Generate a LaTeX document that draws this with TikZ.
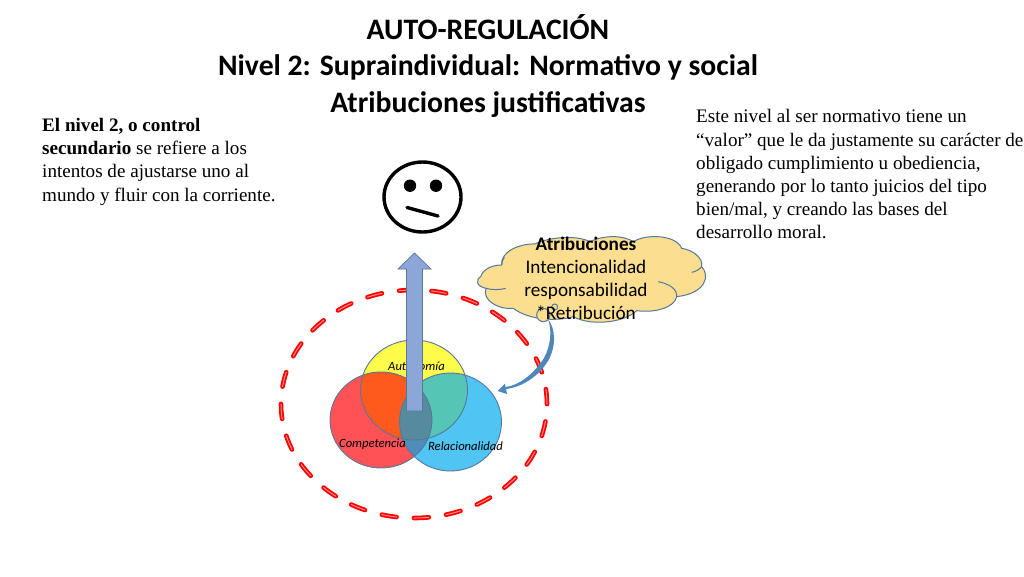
\documentclass[tikz,border=0pt]{standalone}
\usepackage{fontspec}
\setmainfont{Liberation Serif}
\newfontfamily\carlito{Carlito}
\usetikzlibrary{positioning}

\definecolor{cloudFill}{HTML}{FBDE90}
\definecolor{lineBlue}{HTML}{55789A}
\definecolor{arrowFill}{HTML}{8CA6D8}
\definecolor{curveBlue}{HTML}{4F86BC}
\definecolor{autoYellow}{HTML}{FFFB4A}
\definecolor{compRed}{HTML}{FF5256}
\definecolor{relBlue}{HTML}{50C4F2}
\definecolor{autoComp}{HTML}{FF5A1E}
\definecolor{autoRel}{HTML}{55C6B6}
\definecolor{compRel}{HTML}{4F8DBB}
\definecolor{allThree}{HTML}{558A9F}

\tikzset{
  titleText/.style={font=\carlito\bfseries\fontsize{29.7}{36.5}\selectfont,align=center},
  noteText/.style={font=\fontsize{19.1}{23.2}\selectfont,align=left,anchor=north west,inner sep=0pt},
  vennText/.style={font=\carlito\itshape\fontsize{12.6}{14}\selectfont,inner sep=0pt},
  cloudText/.style={font=\carlito\fontsize{19.2}{23}\selectfont,align=center,inner sep=0pt},
  vennLine/.style={draw=lineBlue,line width=.9pt},
  cloudLine/.style={draw=lineBlue,line width=1pt},
  faceLine/.style={line width=3.4pt,line cap=round},
}

\begin{document}
\begin{tikzpicture}[x=1pt,y=-1pt]
\useasboundingbox (0,0) rectangle (1024,576);

\def\autoPath{(414,390) ellipse [x radius=53.5,y radius=50]}
\def\compPath{(381,420) ellipse [x radius=51,y radius=48]}
\def\relPath{(450.5,422) ellipse [x radius=51,y radius=49]}

%% title and the two notes
\node[titleText] (title) at (488,66) {AUTO-REGULACIÓN\\Nivel 2: Supraindividual: Normativo y social\\Atribuciones justificativas};
\node[noteText] (leftNote) at (42,118) {\textbf{El nivel 2, o control}\\\textbf{secundario} se refiere a los\\intentos de ajustarse uno al\\mundo y fluir con la corriente.};
\node[noteText] (rightNote) at (696,109.5) {Este nivel al ser normativo tiene un\\“valor” que le da justamente su carácter de\\obligado cumplimiento u obediencia,\\generando por lo tanto juicios del tipo\\bien/mal, y creando las bases del\\desarrollo moral.};

%% the face
\draw[line width=3.4pt] (422.5,197) ellipse [x radius=38.5,y radius=35];
\foreach \x in {410,436} \fill (\x,185.7) circle [radius=6.2];
\draw[faceLine] (407,207.5) -- (438,216);

%% dashed ring
\foreach \w/\c in {4.6/red,1/red!45!white}
  \draw[line width=\w pt,color=\c,line cap=round,dash pattern=on 15pt off 17.38pt,dash phase=14.88pt] (414,404) ellipse [x radius=133,y radius=114];

%% venn circles, overlaps are clipped
\fill[autoYellow] \autoPath;
\fill[compRed] \compPath;
\fill[relBlue] \relPath;
\begin{scope}
  \clip \autoPath;
  \fill[autoComp] \compPath;
  \fill[autoRel] \relPath;
\end{scope}
\begin{scope}
  \clip \compPath;
  \fill[compRel] \relPath;
  \clip \autoPath;
  \fill[allThree] \relPath;
\end{scope}
\draw[vennLine] \autoPath;
\draw[vennLine] \compPath;
\draw[vennLine] \relPath;

\node[vennText] (autonomia) at (416.5,366) {Autonomía};
\node[vennText] (competencia) at (372.5,444) {Competencia};
\node[vennText] (relacionalidad) at (465.5,446.5) {Relacionalidad};

%% block arrow
\draw[fill=arrowFill,draw=lineBlue,line width=.7pt] (406.5,411) -- (406.5,269) -- (398,269) -- (414.5,253) -- (431,269) -- (422.5,269) -- (422.5,411) -- cycle;

%% cloud, traced in zoomed units
\begin{scope}[shift={(470,220)},x=.3333pt,y=-.3333pt]
  \draw[fill=cloudFill,cloudLine] (32,170)
    .. controls (40,145) and (70,135) .. (95,135)
    .. controls (90,95) and (150,70) .. (195,72)
    .. controls (240,50) and (320,45) .. (360,65)
    .. controls (400,45) and (460,45) .. (490,65)
    .. controls (530,40) and (620,45) .. (635,85)
    .. controls (670,90) and (700,115) .. (695,140)
    .. controls (720,165) and (710,220) .. (620,230)
    .. controls (615,260) and (560,280) .. (500,272)
    .. controls (460,310) and (360,318) .. (310,290)
    .. controls (260,305) and (175,300) .. (130,265)
    .. controls (85,270) and (35,240) .. (48,205)
    .. controls (20,200) and (15,180) .. (32,170) -- cycle;
  \draw[cloudLine] (48,205) .. controls (65,210) and (90,210) .. (107,205);
  \draw[cloudLine] (95,135) .. controls (96,125) and (98,118) .. (103,112);
  \draw[cloudLine] (565,185) .. controls (600,192) and (622,208) .. (620,230);
  \draw[cloudLine] (665,157) .. controls (678,155) and (688,148) .. (695,140);
  \draw[fill=cloudFill,cloudLine] (220,285) circle [radius=20];
  \draw[fill=cloudFill,cloudLine] (254,261) circle [radius=9];
\end{scope}

\coordinate (curveStart) at (548,319);
\coordinate (curveTip) at (497.5,391);
\fill[curveBlue] (curveStart) .. controls (555,328) and (557,345) .. (548,361)
  .. controls (538,377) and (522,387) .. (506,389) -- (507,394) -- (curveTip) -- (505,383.5) -- (505.5,387)
  .. controls (521,385) and (535,372) .. (544,358)
  .. controls (551,345) and (552,330) .. (curveStart) -- cycle;

\node[cloudText] (cloudLabel) at (586,278.5) {\textbf{Atribuciones}\\Intencionalidad\\responsabilidad\\*Retribución};
\end{tikzpicture}
\end{document}
